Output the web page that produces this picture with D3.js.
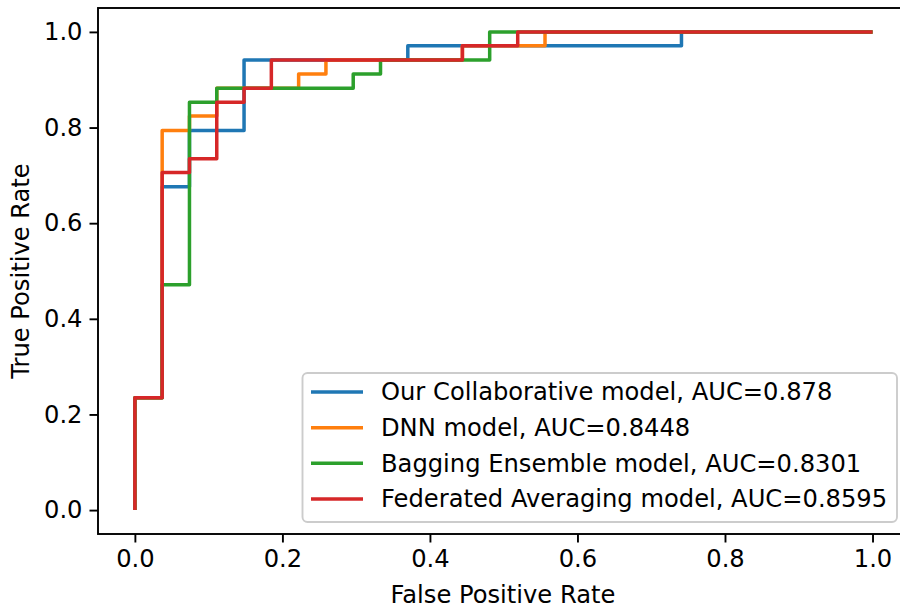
<!DOCTYPE html>
<html>
<head>
<meta charset="utf-8">
<script src="https://cdn.jsdelivr.net/npm/d3@7"></script>
<style>
  body { margin: 0; background: #fff; }
  text { font-family: "DejaVu Sans", sans-serif; fill: #000; }
</style>
</head>
<body>
<div id="chart"></div>
<script>
// ROC corner points (fpr / tpr pairs per model)
var names = ["Our Collaborative model, AUC=0.878", "DNN model, AUC=0.8448",
             "Bagging Ensemble model, AUC=0.8301", "Federated Averaging model, AUC=0.8595"];
var colors = ["#1f77b4", "#ff7f0e", "#2ca02c", "#d62728"];

var fprCollab = [0, 0, 0.037, 0.037, 0.074, 0.074, 0.148, 0.148, 0.370, 0.370, 0.741, 0.741, 1];
var tprCollab = [0, 0.235, 0.235, 0.676, 0.676, 0.794, 0.794, 0.941, 0.941, 0.971, 0.971, 1, 1];

var fprDnn = [0, 0, 0.037, 0.037, 0.074, 0.074, 0.111, 0.111, 0.222, 0.222, 0.259, 0.259, 0.444, 0.444, 0.556, 0.556, 1];
var tprDnn = [0, 0.235, 0.235, 0.794, 0.794, 0.824, 0.824, 0.882, 0.882, 0.912, 0.912, 0.941, 0.941, 0.971, 0.971, 1, 1];

var fprBag = [0, 0, 0.037, 0.037, 0.074, 0.074, 0.111, 0.111, 0.296, 0.296, 0.333, 0.333, 0.481, 0.481, 1];
var tprBag = [0, 0.235, 0.235, 0.471, 0.471, 0.853, 0.853, 0.882, 0.882, 0.912, 0.912, 0.941, 0.941, 1, 1];

var fprFed = [0, 0, 0.037, 0.037, 0.074, 0.074, 0.111, 0.111, 0.148, 0.148, 0.185, 0.185, 0.444, 0.444, 0.519, 0.519, 1];
var tprFed = [0, 0.235, 0.235, 0.706, 0.706, 0.735, 0.735, 0.853, 0.853, 0.882, 0.882, 0.941, 0.941, 0.971, 0.971, 1, 1];

var xTicks = [0, 0.2, 0.4, 0.6, 0.8, 1.0];
var yTicks = [0, 0.2, 0.4, 0.6, 0.8, 1.0];

var width = 900, height = 610;
var plotL = 98, plotR = 909.4, plotT = 8, plotB = 534;
var fontSize = '24.2px';

var svg = d3.select('#chart')
    .append('svg')
    .attr('width', width)
    .attr('height', height);

var x = d3.scaleLinear().domain([-0.05, 1.05]).range([plotL, plotR]);
var y = d3.scaleLinear().domain([-0.05, 1.05]).range([plotB, plotT]);

var series = [
  {fpr: fprCollab, tpr: tprCollab},
  {fpr: fprDnn, tpr: tprDnn},
  {fpr: fprBag, tpr: tprBag},
  {fpr: fprFed, tpr: tprFed}
];

var line = d3.line()
    .x(function(d){ return x(d[0]); })
    .y(function(d){ return y(d[1]); });

// curves
svg.append('g')
  .selectAll('path')
  .data(series)
  .enter()
  .append('path')
  .attr('fill', 'none')
  .attr('stroke', function(d, i){ return colors[i]; })
  .attr('stroke-width', 3.5)
  .attr('stroke-linejoin', 'round')
  .attr('stroke-linecap', 'butt')
  .attr('d', function(d){ return line(d3.zip(d.fpr, d.tpr)); });

// axes
var xAxis = svg.append('g')
    .attr('transform', 'translate(0,' + plotB + ')')
    .call(d3.axisBottom(x).tickValues(xTicks).tickFormat(d3.format('.1f')).tickSize(8.5).tickPadding(7));
var yAxis = svg.append('g')
    .attr('transform', 'translate(' + plotL + ',0)')
    .call(d3.axisLeft(y).tickValues(yTicks).tickFormat(d3.format('.1f')).tickSize(8.5).tickPadding(7));

[xAxis, yAxis].forEach(function(a){
  a.select('.domain').remove();
  a.selectAll('line').attr('stroke', '#000').attr('stroke-width', 1.9);
  a.selectAll('text').style('font-family', '"DejaVu Sans", sans-serif').style('font-size', fontSize).attr('fill', '#000');
});

// frame
svg.append('rect')
  .attr('x', plotL).attr('y', plotT)
  .attr('width', plotR - plotL).attr('height', plotB - plotT)
  .attr('fill', 'none')
  .attr('stroke', '#000')
  .attr('stroke-width', 1.9);

// axis labels
svg.append('text')
  .attr('x', 503)
  .attr('y', 603)
  .attr('text-anchor', 'middle')
  .style('font-size', fontSize)
  .text('False Positive Rate');

svg.append('text')
  .attr('transform', 'translate(29,' + ((plotT + plotB) / 2) + ') rotate(-90)')
  .attr('text-anchor', 'middle')
  .style('font-size', fontSize)
  .text('True Positive Rate');

// legend
var legend = svg.append('g');
legend.append('rect')
  .attr('x', 302.5).attr('y', 373)
  .attr('width', 594.5).attr('height', 149)
  .attr('rx', 5)
  .attr('fill', '#fff').attr('fill-opacity', 0.8)
  .attr('stroke', '#ccc').attr('stroke-width', 1.9);

var rowY = d3.scaleLinear().domain([0, 3]).range([392, 499]);
var items = legend.selectAll('g.item')
  .data(names)
  .enter()
  .append('g')
  .attr('class', 'item')
  .attr('transform', function(d, i){ return 'translate(0,' + rowY(i) + ')'; });

items.append('line')
  .attr('x1', 311).attr('x2', 363)
  .attr('stroke', function(d, i){ return colors[i]; })
  .attr('stroke-width', 3.5);

items.append('text')
  .attr('x', 381)
  .attr('dy', '0.35em')
  .style('font-size', fontSize)
  .text(function(d){ return d; });
</script>
</body>
</html>
